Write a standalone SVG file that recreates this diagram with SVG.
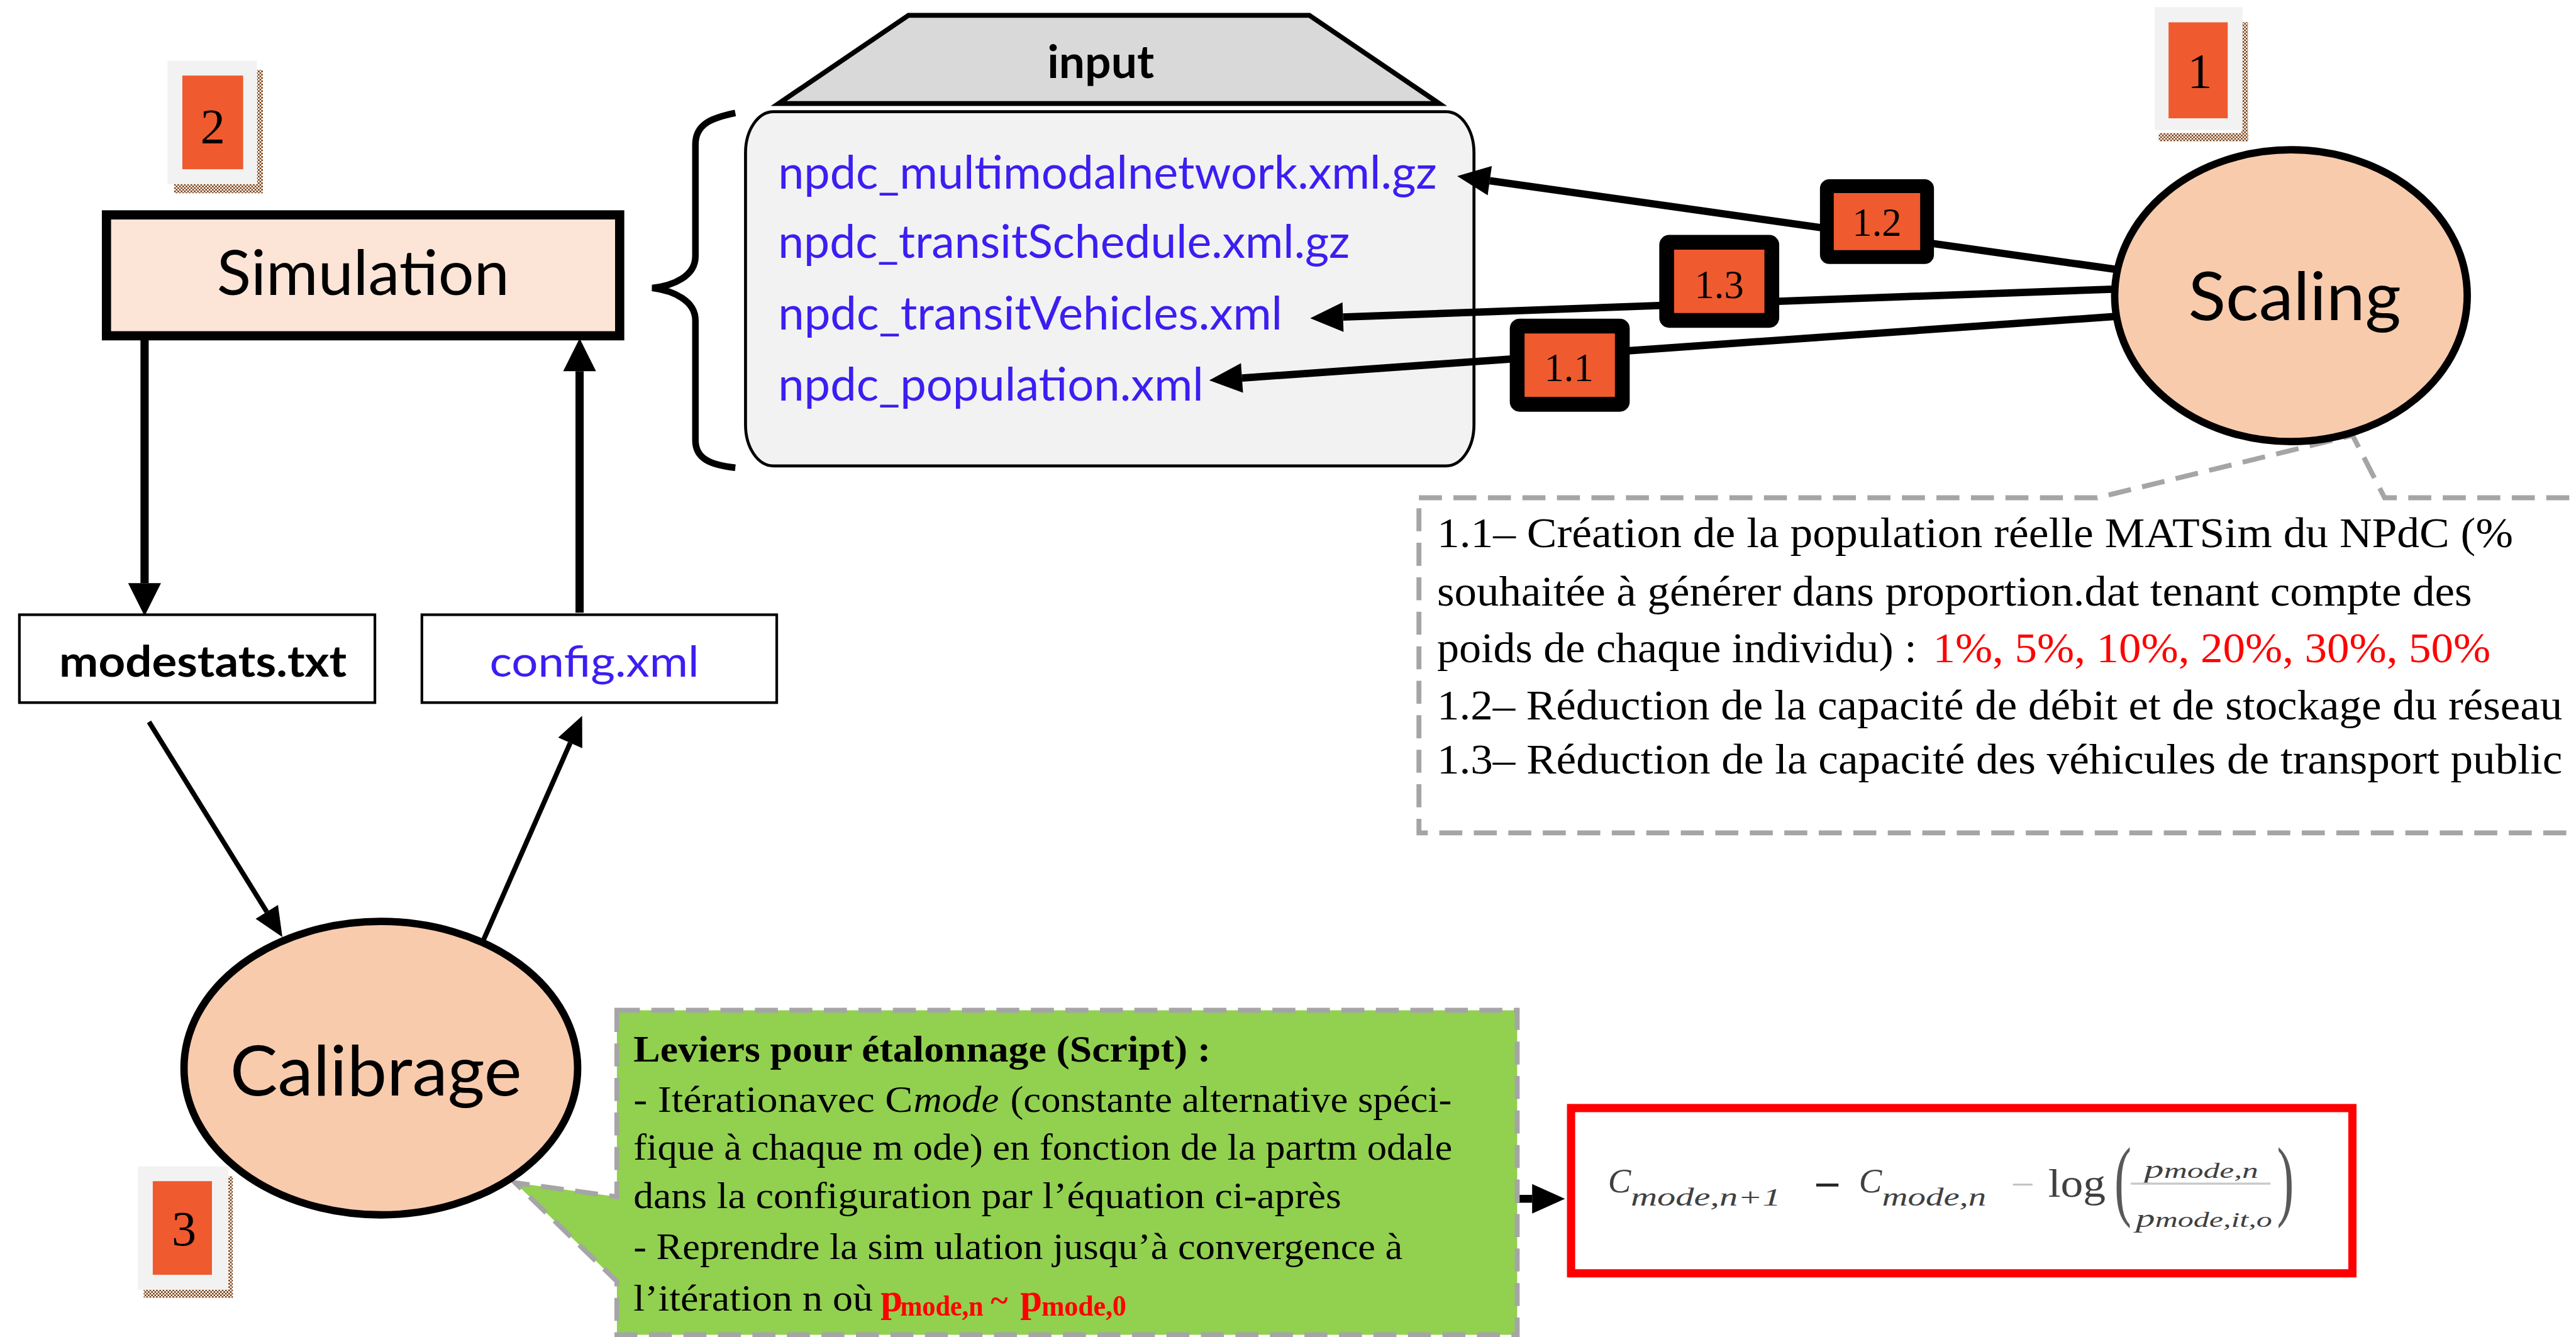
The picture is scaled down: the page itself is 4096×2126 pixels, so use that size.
<svg xmlns="http://www.w3.org/2000/svg" width="4096" height="2126" viewBox="0 0 4096 2126">
<style>
.sans{font-family:Lato,"Open Sans","Liberation Sans",sans-serif}
.serif{font-family:"Liberation Serif","Times New Roman",serif}
.blue{fill:#3b1ef2}
.red{fill:#ff0000}
.gray{fill:#404040}
.badge-o{fill:#f2f2f2}
.badge-i{fill:#ef5a2f}
.tag{fill:#ef5a2f;stroke:#000;}
.ln{fill:none;stroke:#000;stroke-linecap:butt}
.dash{stroke:#a5a5a5;stroke-width:3;stroke-dasharray:14 7}
</style>
<defs>
<pattern id="chk" width="2" height="2" patternUnits="userSpaceOnUse"><rect width="2" height="2" fill="#ffffff"/><rect width="1" height="1" fill="#7a3e10"/><rect x="1" y="1" width="1" height="1" fill="#7a3e10"/></pattern>
<marker id="ah5" markerUnits="userSpaceOnUse" markerWidth="22" markerHeight="22" refX="0" refY="10" orient="auto" overflow="visible"><path d="M0,0 L20,10 L0,20 Z" fill="#000"/></marker>
<marker id="ah4" markerUnits="userSpaceOnUse" markerWidth="22" markerHeight="22" refX="0" refY="9" orient="auto" overflow="visible"><path d="M0,0 L20,9 L0,18 Z" fill="#000"/></marker>
<marker id="ah3" markerUnits="userSpaceOnUse" markerWidth="22" markerHeight="22" refX="0" refY="8" orient="auto" overflow="visible"><path d="M0,0 L18,8 L0,16 Z" fill="#000"/></marker>
</defs>
<rect width="4096" height="2126" fill="#ffffff"/>
<g transform="scale(2.61224)">

<g id="note-scaling">
<path d="M863.7,303 H1276.6 L1432,265 L1451.5,303 H1580 V507 H863.7 Z" fill="#ffffff" class="dash"/>
<text class="serif" x="874.7" y="333" font-size="26" textLength="655" lengthAdjust="spacingAndGlyphs">1.1– Création de la population réelle MATSim du NPdC (%</text>
<text class="serif" x="874.7" y="368.8" font-size="26" textLength="630" lengthAdjust="spacingAndGlyphs">souhaitée à générer dans proportion.dat tenant compte des</text>
<text class="serif" x="874.7" y="403" font-size="26" textLength="292" lengthAdjust="spacingAndGlyphs">poids de chaque individu) :</text>
<text class="serif red" x="1176.6" y="403" font-size="26" textLength="339.4" lengthAdjust="spacingAndGlyphs">1%, 5%, 10%, 20%, 30%, 50%</text>
<text class="serif" x="874.7" y="438" font-size="26" textLength="685" lengthAdjust="spacingAndGlyphs">1.2– Réduction de la capacité de débit et de stockage du réseau</text>
<text class="serif" x="874.7" y="470.8" font-size="26" textLength="685" lengthAdjust="spacingAndGlyphs">1.3– Réduction de la capacité des véhicules de transport public</text>
</g>

<g id="badge-2">
<rect x="156.4" y="42.6" width="3.6" height="75" fill="url(#chk)"/>
<rect x="106" y="112" width="54" height="5.6" fill="url(#chk)"/>
<rect class="badge-o" x="102" y="37" width="54.4" height="75"/>
<rect class="badge-i" x="111" y="46" width="37" height="57"/>
<text class="serif" x="129.5" y="86.8" font-size="30" text-anchor="middle">2</text>
</g>

<g id="simulation">
<rect x="64.8" y="130.8" width="312.4" height="73.6" fill="#fce4d6" stroke="#000" stroke-width="5.6"/>
<text class="sans" x="132" y="179.4" font-size="38" textLength="178" lengthAdjust="spacingAndGlyphs">Simulation</text>
</g>

<g id="input">
<path d="M553,9.3 H797 L876,63 H474 Z" fill="#d9d9d9" stroke="#000" stroke-width="3" stroke-linejoin="miter"/>
<text class="sans" x="670" y="47.5" font-size="28" font-weight="bold" text-anchor="middle">input</text>
<rect x="453.8" y="68" width="443.4" height="215.6" rx="17" ry="25" fill="#f2f2f2" stroke="#000" stroke-width="1.8"/>
<text class="sans blue" x="473.6" y="115" font-size="28" textLength="401" lengthAdjust="spacingAndGlyphs">npdc_multimodalnetwork.xml.gz</text>
<text class="sans blue" x="473.6" y="157" font-size="28" textLength="348" lengthAdjust="spacingAndGlyphs">npdc_transitSchedule.xml.gz</text>
<text class="sans blue" x="473.6" y="200.5" font-size="28" textLength="307" lengthAdjust="spacingAndGlyphs">npdc_transitVehicles.xml</text>
<text class="sans blue" x="473.6" y="244" font-size="28" textLength="259" lengthAdjust="spacingAndGlyphs">npdc_population.xml</text>
<path d="M447.6,68.8 C432,72 423.3,76 423.3,88 V156 C423.3,168 410,174 397,175.3 C410,177 423.3,183 423.3,195 V268 C423.3,279 432,283 447.6,284.7" fill="none" stroke="#000" stroke-width="4"/>
</g>

<g id="connectors">
<line class="ln" x1="88" y1="207" x2="88" y2="355" stroke-width="5" marker-end="url(#ah5)"/>
<line class="ln" x1="352.8" y1="373" x2="352.8" y2="226" stroke-width="5" marker-end="url(#ah5)"/>
<line class="ln" x1="90.7" y1="439.4" x2="162.4" y2="555.1" stroke-width="3" marker-end="url(#ah3)"/>
<line class="ln" x1="294.4" y1="572" x2="347.1" y2="452.2" stroke-width="3" marker-end="url(#ah3)"/>
<line class="ln" x1="1288" y1="164" x2="906.8" y2="110" stroke-width="4.5" marker-end="url(#ah4)"/>
<line class="ln" x1="1286" y1="176" x2="817.5" y2="193" stroke-width="4.5" marker-end="url(#ah4)"/>
<line class="ln" x1="1288" y1="192.6" x2="756" y2="230.1" stroke-width="4.5" marker-end="url(#ah4)"/>
<line class="ln" x1="822.7" y1="729.7" x2="932.6" y2="729.7" stroke-width="4.8" marker-end="url(#ah4)"/>
</g>

<g id="badge-1">
<rect x="1364.3" y="13.5" width="4" height="72.5" fill="url(#chk)"/>
<rect x="1314" y="81" width="54.4" height="5" fill="url(#chk)"/>
<rect class="badge-o" x="1311.5" y="4.3" width="53.5" height="75"/>
<rect class="badge-i" x="1320" y="13.6" width="36" height="58.4"/>
<text class="serif" x="1339" y="53.3" font-size="30" text-anchor="middle">1</text>
</g>

<g id="scaling">
<ellipse cx="1394.5" cy="180" rx="107.3" ry="88.8" fill="#f8cbad" stroke="#000" stroke-width="4.5"/>
<text class="sans" x="1332" y="194.7" font-size="41" textLength="129.5" lengthAdjust="spacingAndGlyphs">Scaling</text>
</g>

<g id="tag-1-2">
<rect class="tag" x="1112" y="113.3" width="61" height="43.2" rx="1.5" stroke-width="8.4"/>
<text class="serif" x="1142.5" y="143.4" font-size="24" text-anchor="middle">1.2</text>
</g>
<g id="tag-1-3">
<rect class="tag" x="1014.5" y="147.5" width="64" height="47.5" rx="1.5" stroke-width="9"/>
<text class="serif" x="1046.5" y="181.4" font-size="24" text-anchor="middle">1.3</text>
</g>
<g id="tag-1-1">
<rect class="tag" x="923.5" y="198.5" width="64" height="47.6" rx="1.5" stroke-width="9"/>
<text class="serif" x="955" y="232" font-size="24" text-anchor="middle">1.1</text>
</g>

<g id="modestats">
<rect x="11.8" y="374.2" width="216.4" height="53.5" fill="#ffffff" stroke="#000" stroke-width="1.6"/>
<text class="sans" x="36" y="412" font-size="26" font-weight="bold" textLength="175" lengthAdjust="spacingAndGlyphs">modestats.txt</text>
</g>

<g id="config">
<rect x="256.8" y="374.2" width="216" height="53.5" fill="#ffffff" stroke="#000" stroke-width="1.6"/>
<text class="sans blue" x="298" y="412" font-size="26" textLength="127.5" lengthAdjust="spacingAndGlyphs">config.xml</text>
</g>

<g id="leviers">
<path d="M375.5,615 H923.5 V812.5 H375.5 V780 L313.6,720 L375.5,728.5 Z" fill="#92d050" class="dash"/>
<text class="serif" x="385.6" y="646" font-size="23" font-weight="bold" textLength="351.4" lengthAdjust="spacingAndGlyphs">Leviers pour étalonnage  (Script) :</text>
<text class="serif" x="385.6" y="676.8" font-size="23" textLength="170" lengthAdjust="spacingAndGlyphs">- Itérationavec C</text>
<text class="serif" x="556" y="676.8" font-size="23" font-style="italic" textLength="52" lengthAdjust="spacingAndGlyphs">mode</text>
<text class="serif" x="615" y="676.8" font-size="23" textLength="268.7" lengthAdjust="spacingAndGlyphs">(constante alternative spéci-</text>
<text class="serif" x="385.6" y="706" font-size="23" textLength="498.4" lengthAdjust="spacingAndGlyphs">fique à  chaque m ode) en fonction de la partm odale</text>
<text class="serif" x="385.6" y="735.3" font-size="23" textLength="430.9" lengthAdjust="spacingAndGlyphs">dans la  configuration par l’équation ci-après</text>
<text class="serif" x="385.6" y="766.5" font-size="23" textLength="468.2" lengthAdjust="spacingAndGlyphs">- Reprendre la  sim ulation jusqu’à convergence à</text>
<text class="serif" x="385.6" y="797.7" font-size="23" textLength="145.8" lengthAdjust="spacingAndGlyphs">l’itération n où</text>
<text class="serif red" x="536" y="798" font-size="24" font-weight="bold">p</text>
<text class="serif red" x="548" y="801" font-size="18" font-weight="bold" textLength="50.6" lengthAdjust="spacingAndGlyphs">mode,n</text>
<text class="serif red" x="603" y="798" font-size="20" font-weight="bold">~</text>
<text class="serif red" x="621" y="798" font-size="24" font-weight="bold">p</text>
<text class="serif red" x="634" y="801" font-size="18" font-weight="bold" textLength="51.6" lengthAdjust="spacingAndGlyphs">mode,0</text>
</g>

<g id="badge-3">
<rect x="139" y="716" width="2.7" height="74" fill="url(#chk)"/>
<rect x="87.5" y="785" width="54.2" height="5" fill="url(#chk)"/>
<rect class="badge-o" x="84" y="710" width="55" height="75"/>
<rect class="badge-i" x="93" y="719" width="36" height="57"/>
<text class="serif" x="112" y="758" font-size="30" text-anchor="middle">3</text>
</g>

<g id="calibrage">
<ellipse cx="231.8" cy="650.2" rx="119.8" ry="89.3" fill="#f8cbad" stroke="#000" stroke-width="4.5"/>
<text class="sans" x="140" y="667" font-size="42" textLength="177.6" lengthAdjust="spacingAndGlyphs">Calibrage</text>
</g>

<g id="formula">
<rect x="956.3" y="674.5" width="475.6" height="100.6" fill="#ffffff" stroke="#ff0000" stroke-width="5"/>
<text class="serif gray" x="978.8" y="726" font-size="21" font-style="italic">C</text>
<text class="serif gray" x="992.6" y="733.7" font-size="15" font-style="italic" textLength="91.4" lengthAdjust="spacingAndGlyphs">mode,n+1</text>
<text class="serif" x="1104" y="730" font-size="26" font-weight="bold" textLength="16.6" lengthAdjust="spacingAndGlyphs" fill="#262626">−</text>
<text class="serif gray" x="1131.5" y="726" font-size="21" font-style="italic">C</text>
<text class="serif gray" x="1145.6" y="733.7" font-size="15" font-style="italic" textLength="63.4" lengthAdjust="spacingAndGlyphs">mode,n</text>
<text class="serif" x="1224" y="728.5" font-size="22" fill="#bfbfbf" textLength="14.5" lengthAdjust="spacingAndGlyphs">−</text>
<text class="serif gray" x="1246.7" y="728.4" font-size="24" textLength="35" lengthAdjust="spacingAndGlyphs">log</text>
<text class="serif" transform="translate(1287,736) scale(1,1.75)" x="0" y="0" font-size="31" fill="#595959">(</text>
<text class="serif gray" x="1305" y="717" font-style="italic" textLength="69.6" lengthAdjust="spacingAndGlyphs"><tspan font-size="16">p</tspan><tspan font-size="13">mode,n</tspan></text>
<line x1="1297" y1="720.5" x2="1382" y2="720.5" stroke="#c8c8c8" stroke-width="1.3"/>
<text class="serif gray" x="1300" y="747" font-style="italic" textLength="83" lengthAdjust="spacingAndGlyphs"><tspan font-size="16">p</tspan><tspan font-size="13">mode,it,o</tspan></text>
<text class="serif" transform="translate(1386,736) scale(1,1.75)" x="0" y="0" font-size="31" fill="#595959">)</text>
</g>

</g>
</svg>
